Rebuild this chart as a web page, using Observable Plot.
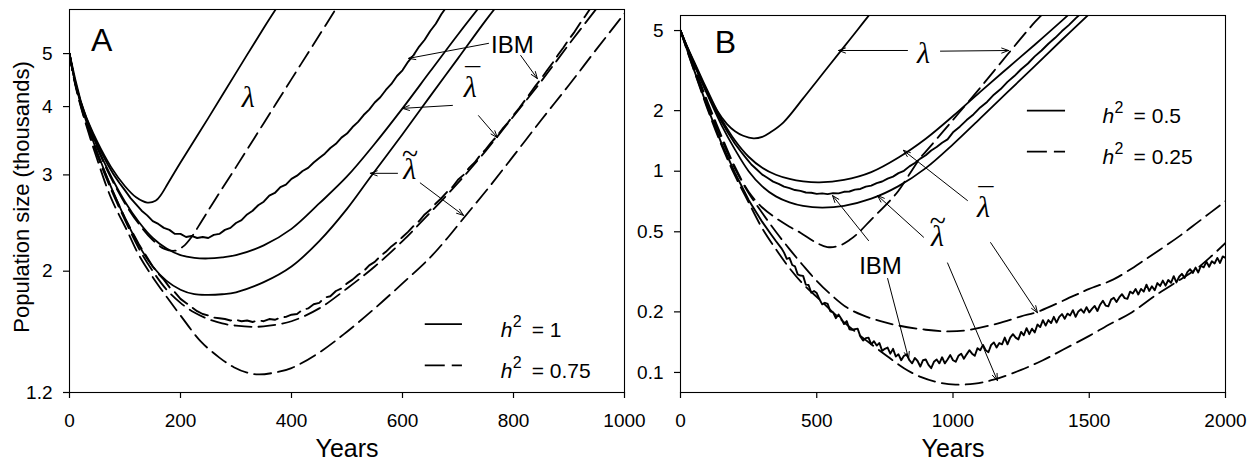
<!DOCTYPE html>
<html><head><meta charset="utf-8">
<script src="https://cdn.jsdelivr.net/npm/d3@7"></script>
<script src="https://cdn.jsdelivr.net/npm/@observablehq/plot@0.6"></script>
<style>
body{margin:0;background:#fff;}
#wrap{display:flex;width:1258px;height:463px;overflow:hidden;background:#fff;}
svg{overflow:visible}
</style></head><body><div id="wrap"></div>
<script>
// ---------- Panel A data (years, population in thousands) ----------
const A_xTicks = [0,200,400,600,800,1000];
const A_yTicks = [1.2,2,3,4,5];
const A_lam_h1 = [[0,5],[10,4.45],[25,3.95],[50,3.45],[75,3.1],[100,2.86],[120,2.73],[140,2.67],[155,2.69],[165,2.76],[177,2.89],[200,3.16],[250,3.81],[300,4.61],[350,5.57],[375,6.1]];
const A_lbar_h1 = [[0,5],[10,4.45],[25,3.93],[50,3.38],[75,2.98],[100,2.68],[125,2.46],[150,2.3],[175,2.2],[200,2.14],[225,2.115],[250,2.11],[275,2.12],[300,2.14],[350,2.23],[400,2.39],[450,2.66],[500,2.98],[550,3.42],[600,3.97],[650,4.64],[700,5.42],[745,6.2]];
const A_ltil_h1 = [[0,5],[10,4.44],[25,3.9],[50,3.3],[75,2.85],[100,2.5],[125,2.23],[150,2.04],[175,1.92],[200,1.85],[225,1.815],[250,1.81],[275,1.815],[300,1.83],[350,1.91],[400,2.04],[450,2.27],[500,2.6],[542,2.97],[600,3.56],[650,4.18],[700,4.9],[750,5.75],[775,6.2]];
const A_ibm_h1 = [[0,5],[10,4.5],[20,4.1],[30,3.82],[40,3.6],[50,3.42],[60,3.26],[70,3.12],[80,3.0],[90,2.9],[100,2.81],[110,2.72],[120,2.65],[130,2.58],[140,2.53],[150,2.47],[160,2.44],[170,2.4],[180,2.38],[190,2.34],[200,2.34],[210,2.31],[220,2.32],[230,2.3],[240,2.31],[250,2.3],[260,2.33],[270,2.34],[280,2.38],[290,2.4],[300,2.45],[310,2.48],[320,2.54],[330,2.58],[340,2.64],[350,2.68],[360,2.75],[370,2.78],[380,2.85],[390,2.88],[400,2.95],[410,2.99],[420,3.05],[430,3.09],[440,3.16],[450,3.22],[460,3.28],[470,3.36],[480,3.42],[490,3.51],[500,3.57],[510,3.67],[520,3.75],[530,3.86],[540,3.95],[550,4.07],[560,4.16],[570,4.29],[580,4.4],[590,4.55],[600,4.66],[610,4.83],[620,4.97],[630,5.15],[640,5.3],[650,5.5],[660,5.67],[670,5.9],[680,6.1]];
const A_lam_h075 = [[0,5],[10,4.43],[25,3.92],[50,3.36],[75,2.96],[100,2.66],[125,2.44],[150,2.28],[170,2.2],[190,2.18],[205,2.22],[220,2.31],[235,2.44],[260,2.68],[300,3.1],[350,3.73],[400,4.49],[450,5.4],[485,6.15]];
const A_lbar_h075 = [[0,5],[10,4.42],[25,3.87],[50,3.26],[75,2.82],[100,2.48],[125,2.2],[150,2.0],[175,1.85],[200,1.75],[225,1.68],[250,1.635],[275,1.605],[300,1.59],[332,1.582],[360,1.59],[400,1.62],[450,1.71],[500,1.86],[550,2.04],[600,2.27],[650,2.56],[700,2.9],[750,3.32],[800,3.84],[850,4.45],[900,5.2],[950,6.05]];
const A_ltil_h075 = [[0,5],[10,4.4],[25,3.85],[50,3.2],[75,2.72],[104,2.37],[125,2.14],[150,1.95],[176,1.79],[200,1.66],[236,1.49],[270,1.39],[296,1.335],[320,1.305],[340,1.295],[370,1.305],[400,1.33],[450,1.42],[500,1.55],[550,1.71],[600,1.9],[650,2.12],[681,2.3],[710,2.5],[750,2.8],[800,3.25],[850,3.78],[900,4.38],[950,5.1],[1000,5.92]];
const A_ibm_h075 = [[0,5],[10,4.43],[25,3.88],[50,3.28],[75,2.84],[100,2.5],[125,2.24],[150,2.04],[160,1.98],[170,1.93],[180,1.87],[190,1.83],[200,1.78],[210,1.75],[220,1.72],[230,1.69],[240,1.67],[250,1.66],[260,1.645],[270,1.64],[280,1.635],[290,1.625],[300,1.63],[310,1.62],[320,1.625],[330,1.615],[340,1.625],[350,1.62],[360,1.635],[370,1.63],[380,1.645],[390,1.65],[400,1.665],[410,1.67],[420,1.7],[430,1.71],[440,1.74],[450,1.75],[460,1.79],[470,1.8],[480,1.84],[490,1.86],[500,1.9],[510,1.93],[520,1.97],[530,2.0],[540,2.05],[550,2.08],[560,2.13],[570,2.17],[580,2.22],[590,2.26],[600,2.31],[610,2.36],[620,2.42],[630,2.47],[640,2.54],[650,2.59],[660,2.66],[670,2.72],[680,2.79],[690,2.85],[700,2.94],[710,3.0],[720,3.09],[730,3.16],[740,3.26],[750,3.34],[760,3.44],[770,3.53],[780,3.64],[790,3.74],[800,3.86],[810,3.97],[820,4.1],[830,4.23],[840,4.37],[850,4.5],[860,4.65],[870,4.8],[880,4.97],[890,5.13],[900,5.31],[910,5.48],[920,5.68],[930,5.87],[940,6.08]];
const A_arrows = [[755,5.22,611,4.9],[813,4.96,843,4.5],[690,4.02,600,3.97],[737,3.85,771,3.51],[591,3.02,542,3.02],[632,2.9,710,2.53]];

// ---------- Panel B data ----------
const B_xTicks = [0,500,1000,1500,2000];
const B_yTicks = [0.1,0.2,0.5,1,2,5];
const B_lam_h05 = [[0,5],[25,4.15],[50,3.5],[75,2.95],[100,2.5],[135,2.0],[170,1.72],[200,1.58],[230,1.5],[268,1.455],[300,1.48],[330,1.56],[378,1.75],[450,2.3],[500,2.8],[550,3.41],[600,4.15],[650,5.05],[700,6.15]];
const B_lbar_h05 = [[0,5],[25,4.12],[50,3.45],[75,2.9],[100,2.45],[150,1.82],[200,1.42],[250,1.18],[300,1.04],[350,0.96],[400,0.915],[450,0.89],[510,0.88],[600,0.905],[700,0.99],[800,1.17],[900,1.45],[1000,1.88],[1100,2.48],[1200,3.25],[1300,4.25],[1400,5.6],[1430,6.1]];
const B_ltil_h05 = [[0,5],[25,4.1],[50,3.4],[75,2.83],[100,2.38],[150,1.7],[200,1.28],[250,1.0],[300,0.84],[350,0.75],[400,0.7],[450,0.672],[520,0.66],[600,0.673],[700,0.73],[800,0.843],[900,1.036],[1000,1.36],[1100,1.83],[1200,2.47],[1300,3.33],[1400,4.5],[1494,5.94],[1520,6.4]];
const B_ibm_h05 = [[0,5],[25,4.1],[50,3.42],[75,2.87],[100,2.42],[125,2.05],[150,1.77],[175,1.55],[200,1.37],[220,1.26],[240,1.165],[260,1.08],[280,1.02],[300,0.962],[320,0.925],[340,0.888],[360,0.866],[380,0.838],[400,0.824],[420,0.806],[440,0.798],[460,0.784],[480,0.782],[500,0.772],[520,0.776],[540,0.769],[560,0.778],[580,0.776],[600,0.79],[620,0.793],[640,0.81],[660,0.816],[680,0.838],[700,0.848],[720,0.873],[740,0.889],[760,0.918],[780,0.94],[800,0.978],[820,1.005],[840,1.057],[860,1.098],[880,1.155],[900,1.2],[920,1.268],[940,1.32],[960,1.385],[980,1.44],[1000,1.56],[1025,1.665],[1050,1.795],[1075,1.915],[1100,2.075],[1125,2.21],[1150,2.4],[1175,2.56],[1200,2.78],[1225,2.97],[1250,3.21],[1275,3.43],[1300,3.72],[1325,3.98],[1350,4.3],[1375,4.6],[1400,4.97],[1425,5.32],[1450,5.75],[1475,6.17]];
const B_lam_h025 = [[0,5],[25,4.05],[50,3.3],[75,2.7],[100,2.2],[150,1.5],[200,1.05],[250,0.79],[300,0.66],[350,0.585],[400,0.53],[440,0.495],[500,0.44],[539,0.42],[580,0.425],[620,0.455],[650,0.49],[700,0.575],[771,0.72],[800,0.8],[881,1.17],[900,1.25],[1000,1.8],[1100,2.6],[1200,3.8],[1300,5.5],[1335,6.15]];
const B_lbar_h025 = [[0,5],[25,4.0],[50,3.25],[75,2.62],[100,2.12],[150,1.45],[200,1.03],[250,0.78],[300,0.62],[350,0.5],[400,0.41],[450,0.34],[500,0.285],[550,0.245],[611,0.21],[670,0.192],[734,0.18],[800,0.171],[900,0.163],[980,0.16],[1050,0.162],[1163,0.175],[1250,0.19],[1310,0.2],[1442,0.24],[1500,0.26],[1589,0.29],[1700,0.36],[1835,0.48],[1900,0.56],[2000,0.71]];
const B_ltil_h025 = [[0,5],[25,3.95],[50,3.15],[75,2.52],[100,2.02],[150,1.35],[200,0.95],[250,0.7],[300,0.52],[350,0.41],[400,0.33],[450,0.275],[514,0.228],[570,0.193],[635,0.162],[700,0.138],[760,0.12],[820,0.105],[881,0.095],[950,0.089],[1009,0.087],[1080,0.088],[1149,0.092],[1250,0.103],[1330,0.115],[1405,0.13],[1500,0.152],[1580,0.175],[1651,0.197],[1750,0.245],[1835,0.29],[1897,0.33],[1950,0.38],[2000,0.44]];
const B_ibm_h025 = [[0,5],[25,3.98],[50,3.18],[75,2.56],[100,2.06],[150,1.38],[200,0.98],[250,0.72],[300,0.56],[330,0.49],[350,0.45],[370,0.415],[380,0.394],[390,0.367],[400,0.371],[410,0.342],[420,0.337],[430,0.307],[440,0.303],[450,0.302],[460,0.273],[470,0.272],[480,0.249],[490,0.254],[500,0.248],[510,0.231],[520,0.218],[530,0.222],[540,0.219],[550,0.201],[560,0.199],[570,0.186],[580,0.194],[590,0.185],[600,0.174],[610,0.18],[620,0.164],[630,0.163],[640,0.164],[650,0.165],[660,0.151],[670,0.144],[680,0.148],[690,0.149],[700,0.138],[710,0.143],[720,0.136],[730,0.14],[740,0.128],[750,0.131],[760,0.133],[770,0.124],[780,0.131],[790,0.12],[800,0.123],[810,0.115],[820,0.121],[830,0.123],[840,0.115],[850,0.111],[860,0.118],[870,0.114],[880,0.107],[890,0.115],[900,0.116],[910,0.109],[920,0.105],[930,0.113],[940,0.116],[950,0.111],[960,0.119],[970,0.111],[980,0.116],[990,0.122],[1000,0.115],[1010,0.113],[1020,0.121],[1030,0.124],[1040,0.117],[1050,0.123],[1060,0.129],[1070,0.124],[1080,0.121],[1090,0.132],[1100,0.129],[1110,0.137],[1120,0.129],[1130,0.126],[1140,0.137],[1150,0.141],[1160,0.133],[1170,0.14],[1180,0.138],[1190,0.149],[1200,0.138],[1210,0.149],[1220,0.155],[1230,0.149],[1240,0.146],[1250,0.159],[1260,0.153],[1270,0.166],[1280,0.155],[1290,0.165],[1300,0.158],[1310,0.173],[1320,0.168],[1330,0.182],[1340,0.171],[1350,0.182],[1360,0.176],[1370,0.189],[1380,0.177],[1390,0.189],[1400,0.195],[1410,0.185],[1420,0.196],[1430,0.192],[1440,0.204],[1450,0.189],[1460,0.201],[1470,0.206],[1480,0.198],[1490,0.211],[1500,0.199],[1510,0.207],[1520,0.214],[1530,0.202],[1540,0.217],[1550,0.227],[1560,0.215],[1570,0.213],[1580,0.23],[1590,0.235],[1600,0.224],[1610,0.236],[1620,0.245],[1630,0.234],[1640,0.232],[1650,0.252],[1660,0.247],[1670,0.26],[1680,0.244],[1690,0.26],[1700,0.252],[1710,0.273],[1720,0.254],[1730,0.268],[1740,0.256],[1750,0.278],[1760,0.269],[1770,0.286],[1780,0.27],[1790,0.288],[1800,0.279],[1810,0.301],[1820,0.28],[1830,0.299],[1840,0.309],[1850,0.295],[1860,0.315],[1870,0.326],[1880,0.312],[1890,0.332],[1900,0.314],[1910,0.339],[1920,0.333],[1930,0.355],[1940,0.335],[1950,0.357],[1960,0.348],[1970,0.371],[1980,0.35],[1990,0.377],[2000,0.371]];
const B_arrows = [[833,3.98,580,3.98],[954,3.95,1204,3.98],[1053,0.715,818,1.27],[1138,0.442,1310,0.198],[892,0.47,723,0.757],[980,0.35,1163,0.091],[690,0.452,558,0.757],[760,0.293,837,0.117]];

// ---------- rendering ----------
const SANS = "Liberation Sans, Arial, sans-serif";
const SERIF = "Liberation Serif, Times New Roman, serif";
const rows = p => p.map(([year, value]) => ({year, value}));
const arrows = a => a.map(([x1,y1,x2,y2]) => ({x1,y1,x2,y2}));
const DASH = "17,7";

function curve(data, kind){
  const base = {x:"year", y:"value", stroke:"black", clip:true};
  if (kind === "solid") return Plot.line(rows(data), {...base, curve:"catmull-rom", strokeWidth:1.8});
  if (kind === "dashed") return Plot.line(rows(data), {...base, curve:"catmull-rom", strokeWidth:1.8, strokeDasharray:DASH});
  if (kind === "noisy") return Plot.line(rows(data), {...base, curve:"linear", strokeWidth:1.9});
  if (kind === "noisydash") return Plot.line(rows(data), {...base, curve:"linear", strokeWidth:1.9, strokeDasharray:DASH});
}
function label(x, y, t, opts={}){
  return Plot.text([{x, y}], {x:"x", y:"y", text:() => t, fill:"black", fontFamily:SANS, ...opts});
}
function lam(x, y, accent){
  const o = {fontFamily:SERIF, fontStyle:"italic", fontSize:30};
  if (accent === "bar") return [label(x, y, "\u00AF\nλ", {...o, lineHeight:0.3, lineAnchor:"top", dy:-21})];
  if (accent === "tilde") return [label(x, y, "~\nλ", {...o, lineHeight:0.5, lineAnchor:"top", dy:-27})];
  return [label(x, y, "λ", o)];
}
function legendRows(x1, x2, y1, y2, tx, ty1, ty2, t1, t2){
  const m = [];
  m.push(Plot.ruleY([y1], {x1, x2, stroke:"black", strokeWidth:1.8}));
  m.push(Plot.ruleY([y2], {x1, x2, stroke:"black", strokeWidth:1.8, strokeDasharray:"20,7"}));
  for (const [ty, t] of [[ty1, t1], [ty2, t2]]) {
    m.push(label(tx, ty, "h", {fontStyle:"italic", fontSize:21, textAnchor:"start"}));
    m.push(label(tx, ty, "2", {fontSize:16, textAnchor:"start", dx:12, dy:-9}));
    m.push(label(tx, ty, "= " + t, {fontSize:21, textAnchor:"start", dx:31}));
  }
  return m;
}

function panel(o){
  return Plot.plot({
    width:o.width, height:463,
    marginLeft:o.ml, marginRight:o.mr, marginTop:o.mt, marginBottom:71,
    style:{fontFamily:SANS, fontSize:"19px", color:"black", background:"transparent", overflow:"visible"},
    x:{domain:o.xd},
    y:{type:"log", domain:o.yd},
    marks:[
      ...o.curves,
      Plot.arrow(arrows(o.arrows), {x1:"x1", y1:"y1", x2:"x2", y2:"y2", stroke:"black", strokeWidth:1, headLength:11, headAngle:40}),
      ...o.labels,
      Plot.frame({stroke:"black", strokeWidth:1.1}),
      Plot.axisX(o.xt, {tickSize:6, tickPadding:15, fontSize:19, strokeWidth:1.2, tickFormat:d => String(d)}),
      Plot.axisY(o.yt, {tickSize:6, tickPadding:11, fontSize:19, strokeWidth:1.2, tickFormat:d => String(d)}),
      Plot.text(["Years"], {text:d => d, frameAnchor:"bottom", dy:56, fontSize:25, textAnchor:"middle", lineAnchor:"middle", fill:"black"}),
      ...(o.ylabel ? [Plot.text([o.ylabel], {text:d => d, frameAnchor:"left", dx:-48, dy:-4, rotate:-90, fontSize:22, textAnchor:"middle", lineAnchor:"middle", fill:"black"})] : [])
    ]
  });
}

const wrap = document.getElementById("wrap");
wrap.appendChild(panel({
  width:626, ml:69, mr:2, mt:9, xd:[0,1000], yd:[1.2,6.02], xt:A_xTicks, yt:A_yTicks,
  ylabel:"Population size (thousands)",
  curves:[curve(A_lam_h1,"solid"), curve(A_lbar_h1,"solid"), curve(A_ltil_h1,"solid"), curve(A_ibm_h1,"noisy"),
          curve(A_lam_h075,"dashed"), curve(A_lbar_h075,"dashed"), curve(A_ltil_h075,"dashed"), curve(A_ibm_h075,"noisydash")],
  arrows:A_arrows,
  labels:[label(58,5.28,"A",{fontSize:32}), ...lam(322,4.15), label(798,5.18,"IBM",{fontSize:24}),
          ...lam(722,4.07,"bar"), ...lam(613,2.93,"tilde"),
          ...legendRows(641,708,1.6,1.345,777,1.557,1.311,"1","0.75")]
}));
wrap.appendChild(panel({
  width:632, ml:54, mr:33, mt:15, xd:[0,2000], yd:[0.0795,5.94], xt:B_xTicks, yt:B_yTicks,
  curves:[curve(B_lam_h05,"solid"), curve(B_lbar_h05,"solid"), curve(B_ltil_h05,"solid"), curve(B_ibm_h05,"noisy"),
          curve(B_lam_h025,"dashed"), curve(B_lbar_h025,"dashed"), curve(B_ltil_h025,"dashed"), curve(B_ibm_h025,"noisy")],
  arrows:B_arrows,
  labels:[label(165,4.36,"B",{fontSize:32}), ...lam(892,3.85), label(734,0.336,"IBM",{fontSize:24}),
          ...lam(1112,0.556,"bar"), ...lam(943,0.418,"tilde"),
          ...legendRows(1273,1413,2.0,1.25,1549,1.87,1.17,"0.5","0.25")]
}));
</script></body></html>
